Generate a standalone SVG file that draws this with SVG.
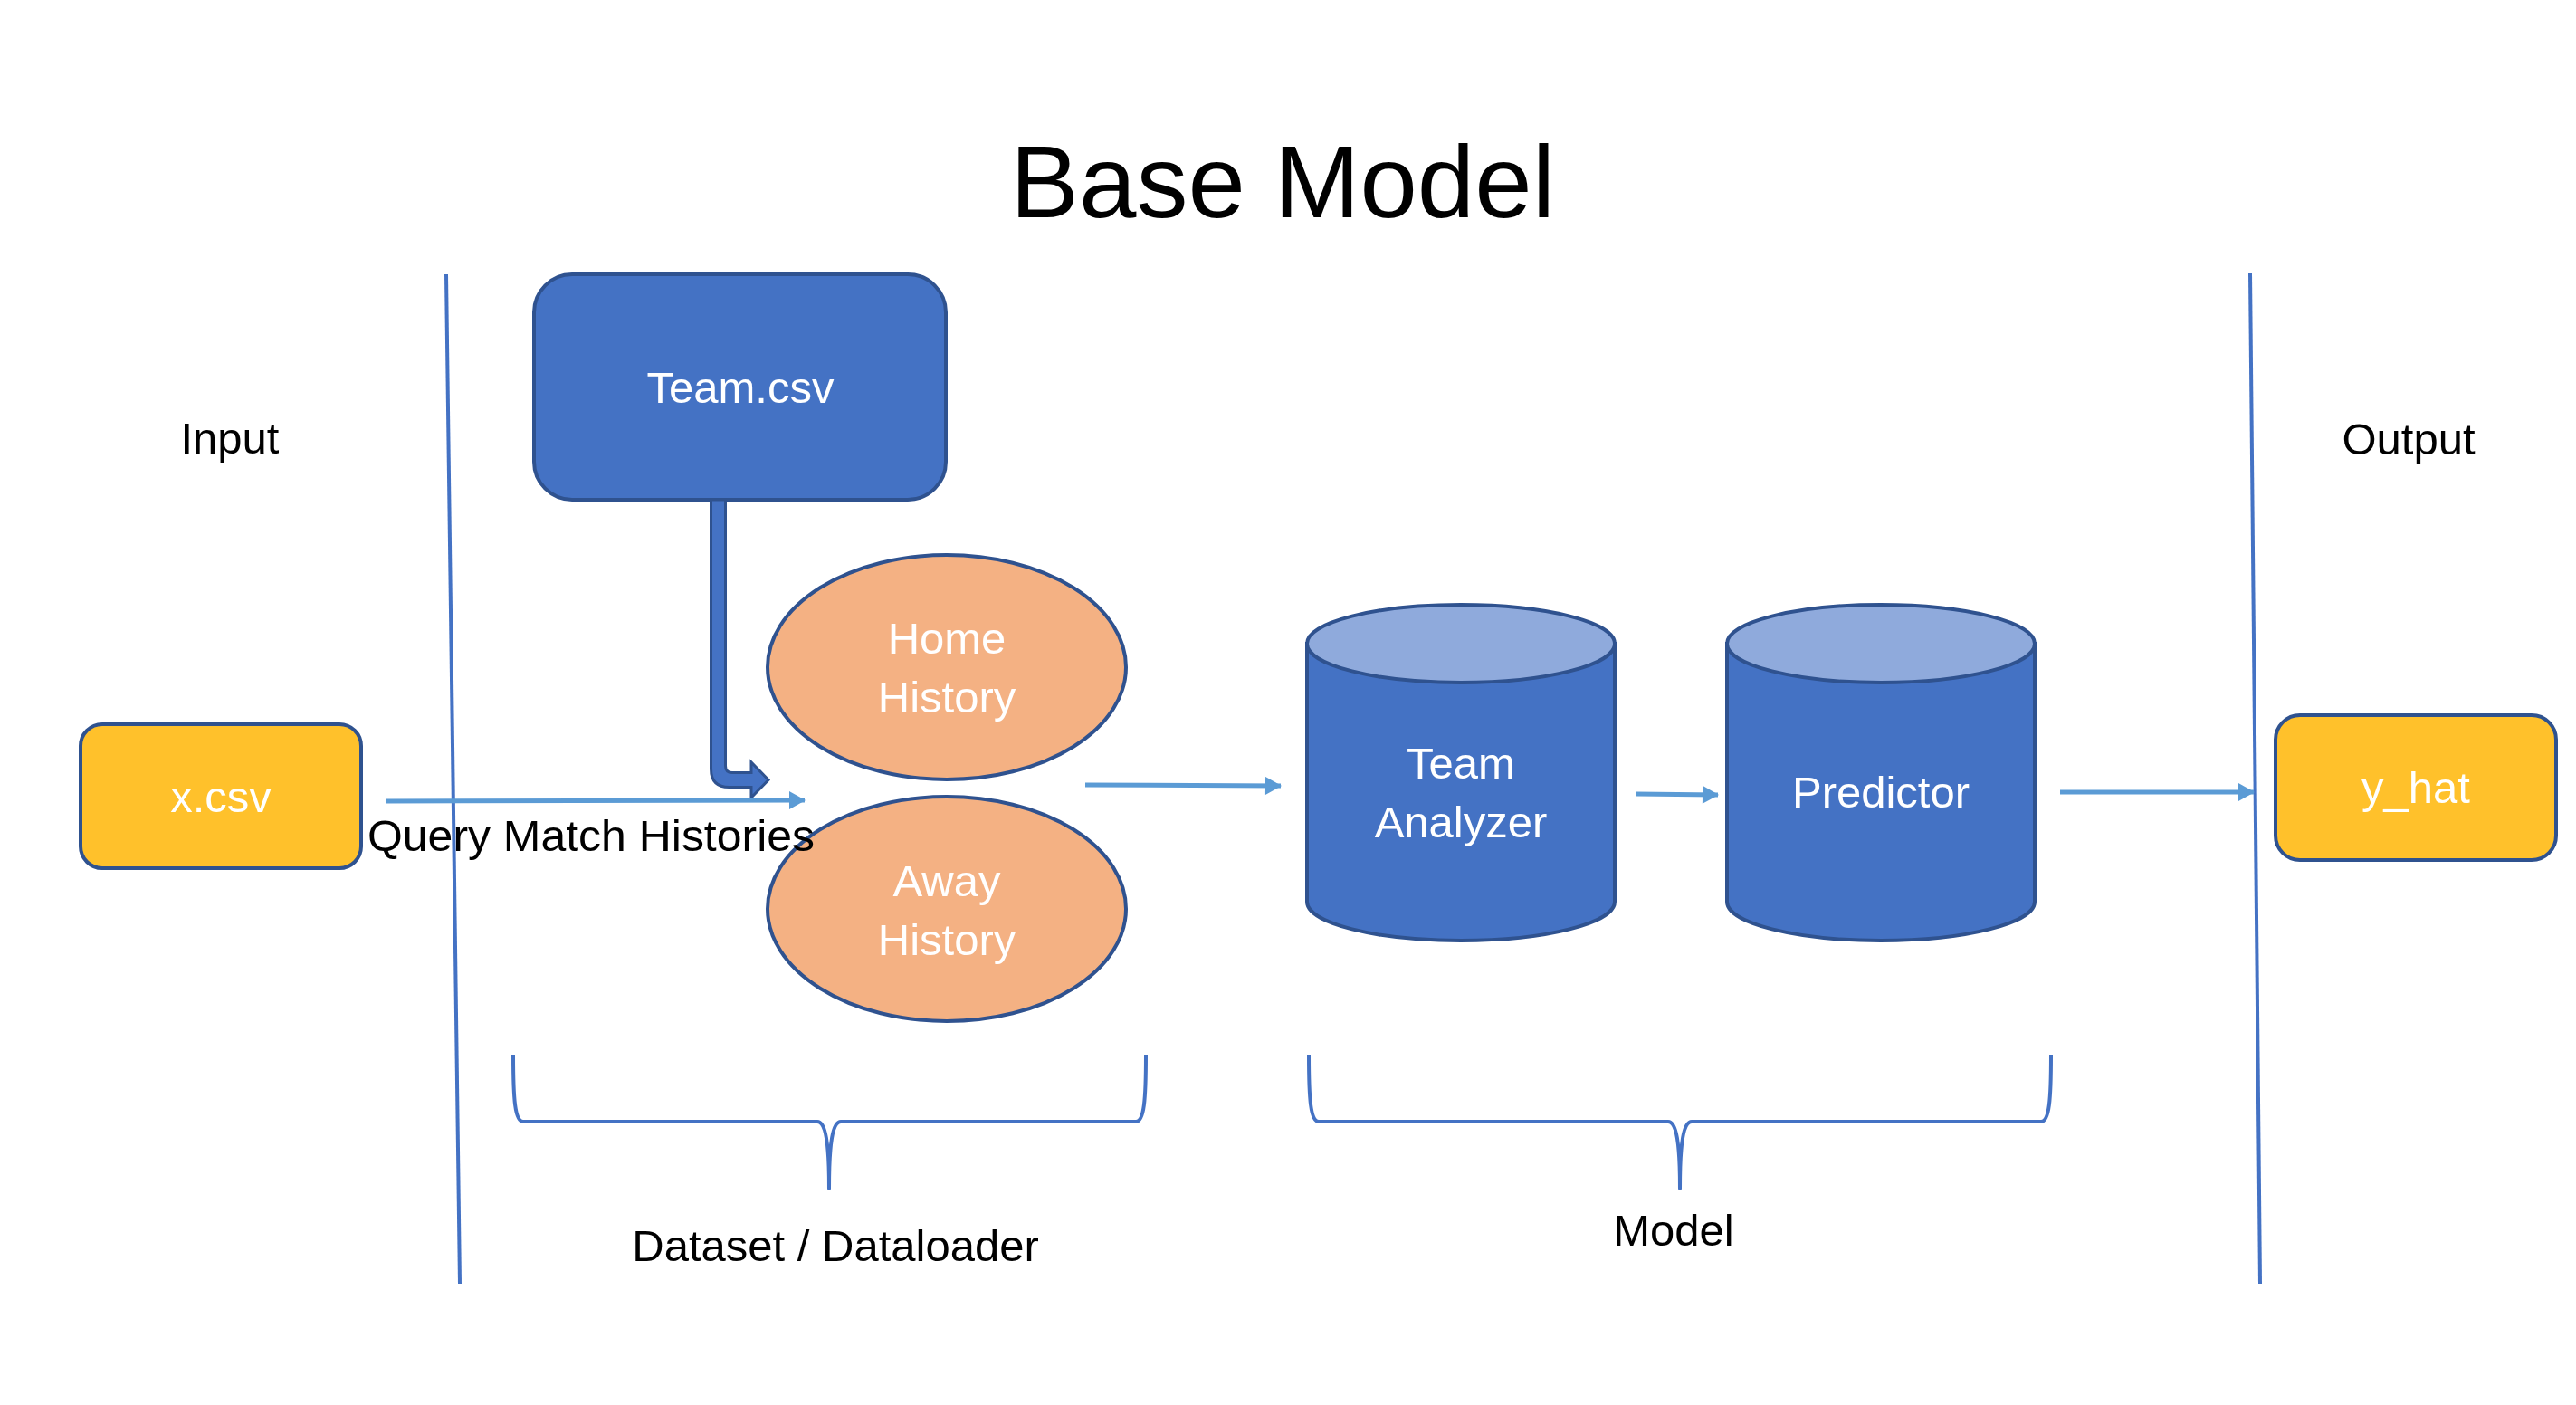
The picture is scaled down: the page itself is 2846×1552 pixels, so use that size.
<svg xmlns="http://www.w3.org/2000/svg" width="2846" height="1552" viewBox="0 0 2846 1552">
<style>
text { font-family: "Liberation Sans", Arial, sans-serif; }
.lbl { font-size: 49px; fill: #000; text-anchor: middle; }
.wt { font-size: 49px; fill: #fff; text-anchor: middle; }
.title { font-size: 114px; fill: #000; text-anchor: middle; }
.box-blue { fill: #4472C4; stroke: #2F528F; stroke-width: 4; }
.box-gold { fill: #FFC12B; stroke: #2F528F; stroke-width: 4; }
.ell { fill: #F4B183; stroke: #2F528F; stroke-width: 4; }
.cyl { fill: #4472C4; stroke: #2F528F; stroke-width: 4; }
.cyltop { fill: #8FAADC; stroke: #2F528F; stroke-width: 4; }
.sep { fill: none; stroke: #4472C4; stroke-width: 4; }
.brace { fill: none; stroke: #4472C4; stroke-width: 4; stroke-linejoin: round; }
.arr { fill: none; stroke: #5B9BD5; stroke-width: 5; marker-end: url(#ah); }
</style>
<defs>
<marker id="ah" markerUnits="userSpaceOnUse" markerWidth="20" markerHeight="20" viewBox="0 0 18 20" refX="17" refY="10" orient="auto">
<path d="M0,0 L18,10 L0,20 Z" fill="#5B9BD5"/>
</marker>
</defs>
<rect width="2846" height="1552" fill="#fff"/>

<g id="title"><text class="title" x="1417" y="240">Base Model</text></g>

<g id="separators">
<path class="sep" d="M493,303 L508,1418"/>
<path class="sep" d="M2486,302 L2497,1418"/>
</g>

<g id="section-labels">
<text class="lbl" x="254" y="501">Input</text>
<text class="lbl" x="2661" y="502">Output</text>
</g>

<g id="team-csv">
<rect class="box-blue" x="590" y="303" width="455" height="249" rx="42"/>
<text class="wt" x="818" y="445">Team.csv</text>
</g>

<g id="home-history">
<ellipse class="ell" cx="1046" cy="737" rx="198" ry="124"/>
<text class="wt" x="1046" y="722">Home</text>
<text class="wt" x="1046" y="787">History</text>
</g>

<g id="away-history">
<ellipse class="ell" cx="1046" cy="1004" rx="198" ry="124"/>
<text class="wt" x="1046" y="990">Away</text>
<text class="wt" x="1046" y="1055">History</text>
</g>

<g id="x-csv">
<rect class="box-gold" x="89" y="800" width="310" height="159" rx="24"/>
<text class="wt" x="244" y="897">x.csv</text>
</g>

<g id="team-analyzer">
<path class="cyl" d="M1444,711 L1444,996 A170,43 0 0 0 1784,996 L1784,711 Z"/>
<ellipse class="cyltop" cx="1614" cy="711" rx="170" ry="43"/>
<text class="wt" x="1614" y="860">Team</text>
<text class="wt" x="1614" y="925">Analyzer</text>
</g>

<g id="predictor">
<path class="cyl" d="M1908,711 L1908,996 A170,43 0 0 0 2248,996 L2248,711 Z"/>
<ellipse class="cyltop" cx="2078" cy="711" rx="170" ry="43"/>
<text class="wt" x="2078" y="892">Predictor</text>
</g>

<g id="y-hat">
<rect class="box-gold" x="2514" y="790" width="310" height="160" rx="27"/>
<text class="wt" x="2669" y="887">y_hat</text>
</g>

<g id="connectors">
<path d="M785.5,552 L785.5,849.5 Q785.5,869.5 805.5,869.5 L830,869.5 L830,881 L849,861.5 L830,842 L830,853.5 L809,853.5 Q801.5,853.5 801.5,846 L801.5,552 Z" fill="#4472C4" stroke="#2F528F" stroke-width="3" stroke-linejoin="miter"/>
<path class="arr" d="M426,885 L889,884"/>
<path class="arr" d="M1199,867 L1415,868"/>
<path class="arr" d="M1808,877 L1898,878"/>
<path class="arr" d="M2276,875 L2490,875"/>
<text x="406" y="940" style="font-size:49px;fill:#000" textLength="494" lengthAdjust="spacingAndGlyphs">Query Match Histories</text>
</g>

<g id="brace-dataset">
<path class="brace" d="M567,1165 C567,1215 569,1239 578,1239 L903,1239 C912,1239 916,1262 916,1313 C916,1262 920,1239 929,1239 L1255,1239 C1264,1239 1266,1215 1266,1165"/>
<text class="lbl" x="923" y="1393">Dataset / Dataloader</text>
</g>

<g id="brace-model">
<path class="brace" d="M1446,1165 C1446,1215 1448,1239 1457,1239 L1843,1239 C1852,1239 1856,1262 1856,1313 C1856,1262 1860,1239 1869,1239 L2255,1239 C2264,1239 2266,1215 2266,1165"/>
<text class="lbl" x="1849" y="1376">Model</text>
</g>
</svg>
